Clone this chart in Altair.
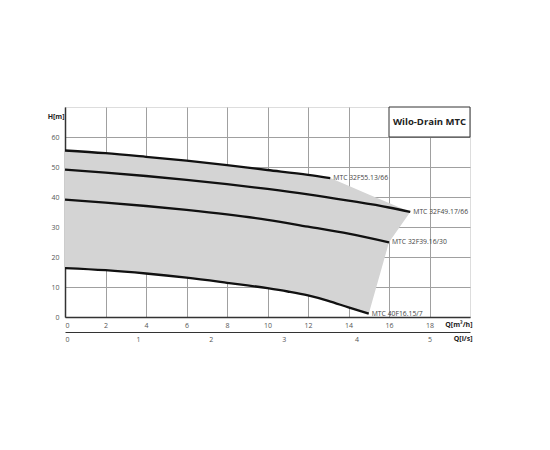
import altair as alt
import pandas as pd
import numpy as np

# Curve data (Q in m3/h, H in m)
q_55 = [0, 2, 4, 6, 8, 10, 12, 13.1]
h_55 = [55.5, 54.6, 53.4, 52.1, 50.6, 49.0, 47.4, 46.3]

q_49 = [0, 2, 4, 6, 8, 10, 12, 14, 16, 17.05]
h_49 = [49.1, 48.1, 47.0, 45.7, 44.3, 42.7, 40.9, 38.8, 36.5, 35.0]

q_39 = [0, 2, 4, 6, 8, 10, 12, 14, 16.0]
h_39 = [39.1, 38.1, 37.0, 35.7, 34.2, 32.4, 30.1, 27.8, 24.9]

q_16 = [0, 2, 4, 6, 8, 10, 11, 12, 13, 14, 15.0]
h_16 = [16.3, 15.6, 14.5, 13.1, 11.4, 9.6, 8.5, 7.2, 5.4, 3.2, 1.1]

names = ["MTC 32F55.13/66", "MTC 32F49.17/66", "MTC 32F39.16/30", "MTC 40F16.15/7"]
curves_q = [q_55, q_49, q_39, q_16]
curves_h = [h_55, h_49, h_39, h_16]

x_ticks = [0, 2, 4, 6, 8, 10, 12, 14, 16, 18]
y_ticks = [0, 10, 20, 30, 40, 50, 60]
ls_ticks = [0, 1, 2, 3, 4, 5]

W, H = 405, 210

rows = []
for n, qs, hs in zip(names, curves_q, curves_h):
    for q, h in zip(qs, hs):
        rows.append({"name": n, "Q": q, "H": h})
df = pd.DataFrame(rows)

# gray envelope: top boundary = top curve then to end of 32F49; bottom = bottom curve then ends of 32F39, 32F49
top_q = q_55 + [q_49[-1]]
top_h = h_55 + [h_49[-1]]
bot_q = q_16 + [q_39[-1], q_49[-1]]
bot_h = h_16 + [h_39[-1], h_49[-1]]
all_q = sorted(set(top_q + bot_q))
env = pd.DataFrame({
    "Q": all_q,
    "top": np.interp(all_q, top_q, top_h),
    "bot": np.interp(all_q, bot_q, bot_h),
})

xs = alt.Scale(domain=[0, 20], nice=False, zero=False)
ys = alt.Scale(domain=[0, 70], nice=False, zero=False)

lab = "#555555"

x_axis = alt.Axis(values=x_ticks, grid=True, gridColor="#a0a0a0", gridWidth=1,
                  domainColor="#333333", domainWidth=1.5, ticks=False, labelOverlap=False,
                  labelFontSize=7, labelColor=lab, labelPadding=4, labelFont="Open Sans",
                  title="Q[m³/h]", titleFontSize=7, titleFont="Open Sans", titleFontWeight="bold",
                  titleColor="#222222", titleAngle=0, titleAlign="right", titleBaseline="middle",
                  titleX=W + 2, titleY=7)
y_axis = alt.Axis(values=y_ticks, grid=True, gridColor="#a0a0a0", gridWidth=1,
                  domainColor="#333333", domainWidth=1.5, ticks=False, labelOverlap=False,
                  labelFontSize=7, labelColor=lab, labelPadding=6, labelFont="Open Sans",
                  title="H[m]", titleFontSize=7, titleFont="Open Sans", titleFontWeight="bold",
                  titleColor="#222222", titleAngle=0, titleAlign="right", titleBaseline="middle",
                  titleX=-1, titleY=9)

X = lambda f: alt.X(f, scale=xs, axis=x_axis)
Y = lambda f: alt.Y(f, scale=ys, axis=y_axis)

env_layer = alt.Chart(env).mark_area(color="#d4d4d4", opacity=1, interpolate="linear").encode(
    x=X("Q:Q"),
    y=Y("top:Q"),
    y2="bot:Q",
)

lines = alt.Chart(df).mark_line(color="#111111", strokeWidth=2.3, interpolate="monotone",
                                strokeJoin="round").encode(
    x=X("Q:Q"),
    y=Y("H:Q"),
    detail="name:N",
)

ends = pd.DataFrame({
    "name": names,
    "Q": [c[-1] for c in curves_q],
    "H": [c[-1] for c in curves_h],
})
labels = alt.Chart(ends).mark_text(align="left", baseline="middle", dx=3, fontSize=6.8,
                                   font="Open Sans", color="#444444").encode(
    x=X("Q:Q"),
    y=Y("H:Q"),
    text="name:N",
)

box = pd.DataFrame({"x1": [16], "x2": [20], "y1": [60], "y2": [70], "t": ["Wilo-Drain MTC"]})
box_rect = alt.Chart(box).mark_rect(fill="white", stroke="#333333", strokeWidth=1).encode(
    x=X("x1:Q"), x2="x2:Q",
    y=Y("y1:Q"), y2="y2:Q",
)
box_text = alt.Chart(box).mark_text(fontSize=9.5, fontWeight="bold", font="Open Sans",
                                    color="#222222").encode(
    x=alt.value(W * 0.9),
    y=alt.value(H * (5 / 70)),
    text="t:N",
)

# Secondary Q axis in l/s
ls_df = pd.DataFrame({"q": [0.0, 20 / 3.6]})
ls_axis = alt.Chart(ls_df).mark_point(opacity=0, size=0).encode(
    x=alt.X("q:Q", scale=alt.Scale(domain=[0, 20 / 3.6], nice=False, zero=False),
            axis=alt.Axis(orient="bottom", offset=15, values=ls_ticks, grid=False,
                          domainColor="#333333", domainWidth=1.2, ticks=False,
                          labelFontSize=7, labelColor=lab, labelPadding=3, labelFont="Open Sans",
                          title="Q[l/s]", titleFontSize=7, titleFont="Open Sans",
                          titleFontWeight="bold", titleColor="#222222", titleAngle=0,
                          titleAlign="right", titleBaseline="middle",
                          titleX=W + 2, titleY=6)),
)

main = alt.layer(env_layer, lines, labels, box_rect, box_text)
chart = alt.layer(main, ls_axis).resolve_scale(x="independent").properties(
    width=W, height=H,
    autosize=alt.AutoSizeParams(type="none"),
    padding={"left": 57, "top": 99, "right": 70, "bottom": 100},
).configure_view(stroke="#333333", strokeWidth=1.2).configure(background="white")

chart.save("out.html", embed_options={"renderer": "svg", "actions": False})
